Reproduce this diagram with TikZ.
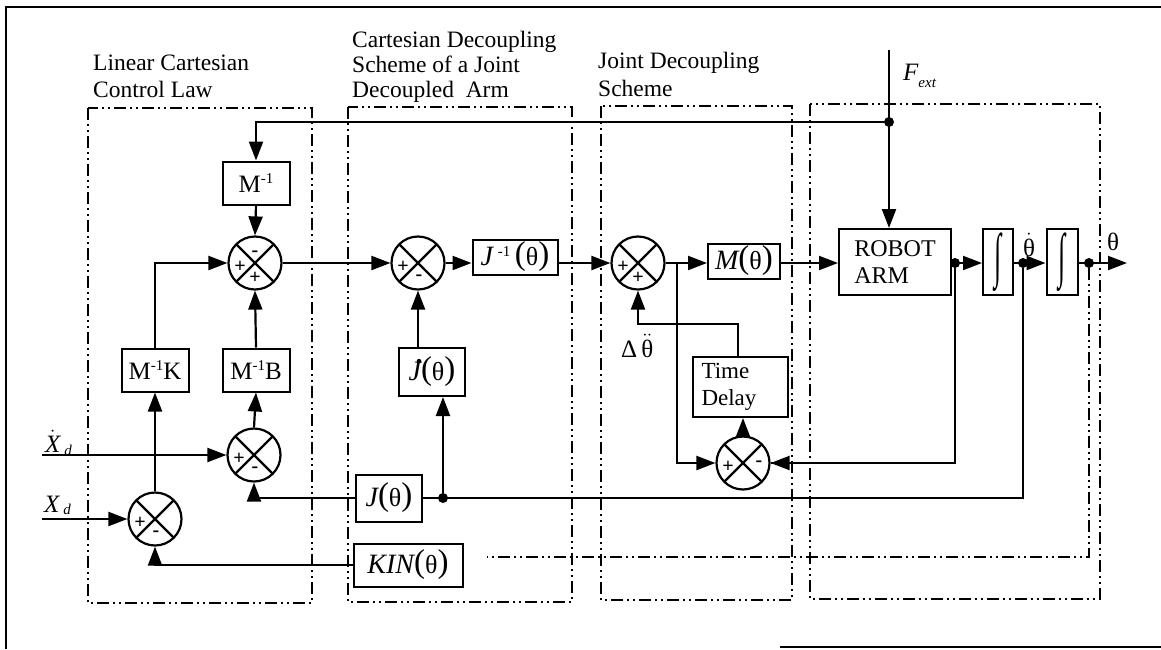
\documentclass[tikz,border=0pt]{standalone}
\usepackage{fontspec}
\setmainfont{Liberation Serif}
\usepackage{graphicx}
\usetikzlibrary{arrows.meta}
\newcommand\myfs[1]{\fontsize{#1}{#1}\selectfont}
\newcommand\supm{\raisebox{9pt}{\upshape\myfs{15}-1}}
\newcommand\parth{{\upshape\raisebox{1pt}{\myfs{33}(}{\myfs{26}θ}\raisebox{1pt}{\myfs{33})}}}
\newcommand\dotup[1]{\ensuremath{\dot{\hbox{#1}}}}
\newcommand\ddotup[1]{\ensuremath{\ddot{\hbox{#1}}}}
\newcommand\jdotted{\makebox[0pt][l]{\hspace{7pt}\raisebox{17pt}{\upshape\bfseries .}}J}
\begin{document}
\begin{tikzpicture}[x=1pt,y=-1pt,
  ln/.style={line width=2.2pt},
  arr/.style={line width=2.2pt,-{Triangle[length=19pt,width=14pt]}},
  dd/.style={line width=2pt,dash pattern=on 12pt off 4pt on 2pt off 4pt on 2pt off 4pt},
  blk/.style={draw,line width=2pt,inner sep=0pt,align=center,font=\myfs{25}},
  mth/.style={blk,font=\myfs{28}\itshape},
  sumj/.style={circle,draw,line width=2.2pt,minimum size=53pt,inner sep=0pt,
    path picture={\draw[line width=2.2pt]
      (path picture bounding box.north west) -- (path picture bounding box.south east)
      (path picture bounding box.north east) -- (path picture bounding box.south west);}},
  junc/.style={circle,fill,inner sep=0pt,minimum size=10pt},
  sgn/.style={inner sep=0pt,font=\bfseries\myfs{20}},
  ttl/.style={anchor=base west,inner sep=0pt,font=\myfs{23.5}},
  lbl/.style={anchor=base west,inner sep=0pt,font=\myfs{25}}]
\useasboundingbox (0,0) rectangle (1161,649);
\fill[white] (0,0) rectangle (1161,649);
% outer frame
\draw[line width=2.4pt] (6,649) -- (6,7) -- (1161,7);
\draw[line width=2.4pt] (780,647) -- (1161,647);
% titles
\node[ttl] (t1a) at (93,70) {Linear Cartesian};
\node[ttl] (t1b) at (93,97) {Control Law};
\node[ttl] (t2a) at (352,47) {Cartesian Decoupling};
\node[ttl] (t2b) at (352,72) {Scheme of a Joint};
\node[ttl] (t2c) at (352,97) {Decoupled\ \ Arm};
\node[ttl] (t3a) at (598,68) {Joint Decoupling};
\node[ttl] (t3b) at (598,96) {Scheme};
% group frames
\draw[dd] (88,108) rectangle (312,603);
\draw[dd] (348,107) rectangle (572,602);
\draw[dd] (601,106) rectangle (792,600);
\draw[dd] (810,104) rectangle (1100,599);
% blocks
\node[blk,minimum width=67pt,minimum height=43pt] (Minv) at (256,183) {M\supm};
\node[blk,minimum width=67pt,minimum height=43pt] (MK) at (155,370) {M\supm K};
\node[blk,minimum width=67pt,minimum height=43pt] (MB) at (256,370) {M\supm B};
\node[mth,minimum width=85pt,minimum height=35pt] (Jinv) at (515,257) {J\,\supm\,\parth};
\node[mth,minimum width=66pt,minimum height=48pt] (jd) at (432,372) {\jdotted\parth};
\node[mth,minimum width=66pt,minimum height=47pt] (JB) at (389,498) {J\parth};
\node[mth,minimum width=109pt,minimum height=43pt] (KIN) at (408,565) {KIN\parth};
\node[mth,minimum width=72pt,minimum height=35pt] (M) at (744,261) {M\parth};
\node[blk,align=left,text width=77pt,inner xsep=9pt,minimum height=60pt,font=\myfs{23}\linespread{1.15}\selectfont] (TD) at (740,387) {Time\\Delay};
\node[blk,align=left,minimum width=112pt,minimum height=66pt,font=\myfs{24}] (robot) at (895,262) {ROBOT\\[3pt]ARM};
\node[blk,minimum width=30pt,minimum height=66pt,font=\myfs{26}] (int1) at (998,262) {\scalebox{1}[2.3]{∫}};
\node[blk,minimum width=31pt,minimum height=66pt,font=\myfs{26}] (int2) at (1062,262) {\scalebox{1}[2.3]{∫}};
% summing junctions
\node[sumj] (s1) at (255,263) {};
\node[sumj] (s2) at (254,455) {};
\node[sumj] (s3) at (155,519) {};
\node[sumj] (s4) at (418,263) {};
\node[sumj] (s5) at (638,263) {};
\node[sumj] (s6) at (743,463) {};
\node[sgn] (s1l) at ([shift={(-15,4)}]s1) {+};
\node[sgn] (s1t) at ([shift={(0,-9)}]s1) {-};
\node[sgn] (s1b) at ([shift={(0,15)}]s1) {+};
\node[sgn] (s2l) at ([shift={(-15,4)}]s2) {+};
\node[sgn] (s2b) at ([shift={(1,15)}]s2) {-};
\node[sgn] (s3l) at ([shift={(-15,4)}]s3) {+};
\node[sgn] (s3b) at ([shift={(1,15)}]s3) {-};
\node[sgn] (s4l) at ([shift={(-15,4)}]s4) {+};
\node[sgn] (s4b) at ([shift={(1,15)}]s4) {-};
\node[sgn] (s5l) at ([shift={(-15,4)}]s5) {+};
\node[sgn] (s5b) at ([shift={(0,15)}]s5) {+};
\node[sgn] (s6l) at ([shift={(-15,4)}]s6) {+};
\node[sgn] (s6r) at ([shift={(16,1)}]s6) {-};
% junction dots and free ends
\node[junc] (dtop) at (889,122) {};
\node[junc] (dJ) at (443,498) {};
\node[junc] (dR) at (955,263) {};
\node[junc] (dTd) at (1023,263) {};
\node[junc] (dT) at (1089,263) {};
\coordinate (fin) at (889,50);
\coordinate (xdin) at (42,455);
\coordinate (xin) at (42,519);
\coordinate (out) at (1127,263);
\coordinate (br) at (677,263);
\coordinate (td1) at (738,324);
\coordinate (kend) at (487,557);
% connectors
\draw[arr] (fin) -- (fin |- robot.north);
\draw[arr] (dtop) -| (Minv.north);
\draw[arr] (Minv.south) -- (s1.north);
\draw[arr] (s1.east) -- (s4.west);
\draw[arr] (s4.east) -- (s4.east -| Jinv.west);
\draw[arr] (s5.west -| Jinv.east) -- (s5.west);
\draw[arr] (s5.east) -- (s5.east -| M.west);
\draw[arr] (s5.east -| M.east) -- (s5.east -| robot.west);
\draw[arr] (dR -| robot.east) -- (dR -| int1.west);
\draw[arr] (dR -| int1.east) -- (dR -| int2.west);
\draw[arr] (dR -| int2.east) -- (out);
\draw[ln] (dR) |- (s6.east);
\draw[arr] (s6.east) ++(30,0) -- (s6.east);
\draw[ln] (dTd) |- (JB.east);
\draw[arr] (dJ) -- (dJ |- jd.south);
\draw[arr] (s4 |- jd.north) -- (s4.south);
\draw[arr] (JB.west) -| (s2.south);
\draw[arr] (KIN.west) -| (s3.south);
\draw[dd] (dT) |- (kend);
\draw[arr] (xdin) -- (s2.west);
\draw[arr] (xin) -- (s3.west);
\draw[arr] (s3.north) -- (MK.south);
\draw[arr] (MK.north) |- (s1.west);
\draw[arr] (s2.north) -- (MB.south);
\draw[arr] (MB.north) -- (s1.south);
\draw[arr] (br) |- (s6.west);
\draw[arr] (s6.north) -- (s6.north |- TD.south);
\draw[arr] (td1 |- TD.north) -- (td1) -| (s5.south);
% labels
\node[lbl] (lfext) at (903,80) {\itshape F\raisebox{-7pt}{\myfs{15}ext}};
\node[lbl] (lxdd) at (45,452) {\itshape\dotup{X}\hspace{4pt}\raisebox{-3pt}{\myfs{15}d}};
\node[lbl] (lxd) at (44,512) {\itshape X\hspace{4pt}\raisebox{-2pt}{\myfs{15}d}};
\node[lbl] (ldd) at (621,357) {Δ\,\ddotup{θ}};
\node[lbl,anchor=base] (lthd) at (1029,256) {\dotup{θ}};
\node[lbl,anchor=base] (lth) at (1113,250) {θ};
\end{tikzpicture}
\end{document}
